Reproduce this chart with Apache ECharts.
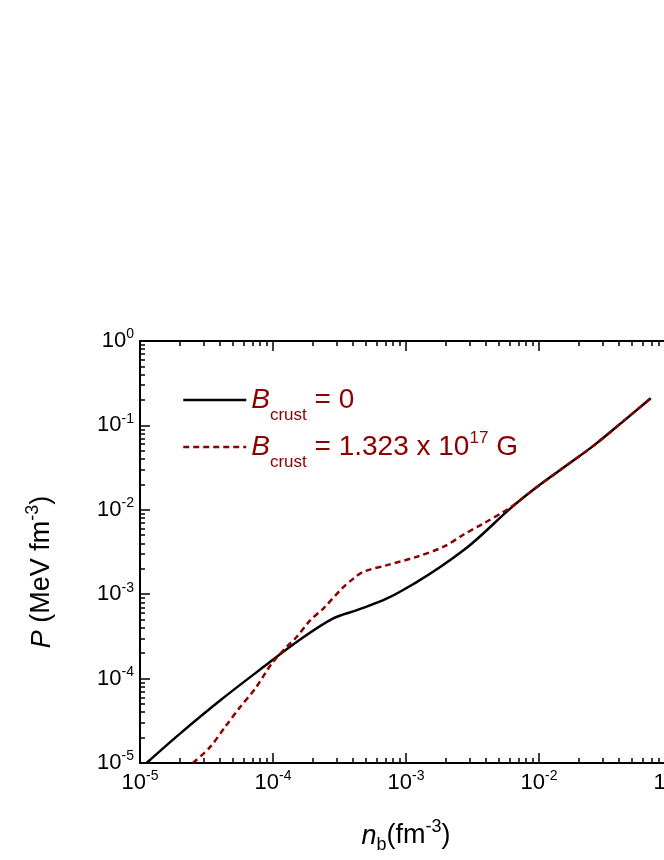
<!DOCTYPE html>
<html>
<head>
<meta charset="utf-8">
<script src="https://cdn.jsdelivr.net/npm/echarts@6/dist/echarts.min.js"></script>
<style>
html,body{margin:0;padding:0;background:#fff;}
#chart{width:664px;height:860px;}
</style>
</head>
<body>
<div id="chart"></div>
<script>
// B_crust = 0 (solid black)
const nb0 = [1.12e-5, 2.0e-5, 4.0e-5, 8.0e-5, 1.6e-4, 2.86e-4, 4.28e-4, 7.2e-4, 1.21e-3, 1.82e-3, 2.72e-3, 3.63e-3, 6.1e-3, 9.16e-3, 1.46e-2, 2.59e-2, 4.36e-2, 6.92e-2];
const p0  = [1.0e-5, 2.23e-5, 5.5e-5, 1.28e-4, 2.9e-4, 5.2e-4, 6.48e-4, 8.9e-4, 1.40e-3, 2.11e-3, 3.33e-3, 4.9e-3, 1.04e-2, 1.75e-2, 3.0e-2, 5.8e-2, 0.114, 0.21];
// B_crust = 1.323 x 10^17 G (dashed dark red)
const nb1 = [2.5e-5, 3.37e-5, 4.36e-5, 5.66e-5, 7.34e-5, 9.8e-5, 1.27e-4, 1.51e-4, 1.91e-4, 2.4e-4, 3.3e-4, 4.04e-4, 4.8e-4, 7.2e-4, 1.21e-3, 1.92e-3, 2.72e-3, 3.8e-3, 5.44e-3, 6.47e-3, 9.16e-3, 1.46e-2, 2.59e-2, 4.36e-2, 6.92e-2];
const p1  = [1.0e-5, 1.55e-5, 2.67e-5, 4.6e-5, 7.6e-5, 1.51e-4, 2.38e-4, 3.13e-4, 4.93e-4, 6.8e-4, 1.17e-3, 1.54e-3, 1.85e-3, 2.21e-3, 2.78e-3, 3.65e-3, 5.1e-3, 6.85e-3, 9.5e-3, 1.14e-2, 1.75e-2, 3.0e-2, 5.8e-2, 0.114, 0.21];

const xRange = [1e-5, 1e-1];
const yRange = [1e-5, 1];
const legendNames = ['B0', 'B1'];
const legendTexts = {
  B0: '{i|B}{sub|crust}{t| = 0}',
  B1: '{i|B}{sub|crust}{t| = 1.323 x 10}{sup|17}{t| G}'
};

function minorTicks(lo, hi) {
  const out = [];
  for (let e = Math.round(Math.log10(lo)); e < Math.round(Math.log10(hi)); e++) {
    for (let m = 2; m <= 9; m++) out.push(m * Math.pow(10, e));
  }
  return out;
}
const FONT = 'Liberation Sans, Arial, Helvetica, sans-serif';
const RED = '#8B0000';

function expLabel(v) {
  const e = Math.round(Math.log10(v));
  return '{b|10}{s|' + e + '}';
}
const tickRich = {
  b: {fontSize: 22, fontFamily: FONT, color: '#000', lineHeight: 22},
  s: {fontSize: 14, fontFamily: FONT, color: '#000', lineHeight: 14, padding: [0, 0, 13, 0]}
};

function pairs(xs, ys) { return xs.map((x, i) => [x, ys[i]]); }

const chart = echarts.init(document.getElementById('chart'), null, {renderer: 'canvas'});
const grid = {left: 140, top: 341, width: 532, height: 422, containLabel: false, outerBoundsMode: 'none'};

function logAxis(extra) {
  return Object.assign({
    type: 'log', logBase: 10, gridIndex: 0,
    splitLine: {show: false}, minorSplitLine: {show: false}
  }, extra);
}

const option = {
  animation: false,
  backgroundColor: '#fff',
  grid: grid,
  legend: {
    data: legendNames,
    orient: 'vertical',
    left: 182, top: 376,
    padding: 0,
    itemWidth: 63, itemHeight: 14,
    itemGap: -1,
    itemStyle: {opacity: 0},
    lineStyle: {width: 2.5},
    formatter: n => legendTexts[n],
    textStyle: {
      color: RED, fontFamily: FONT,
      rich: {
        i: {fontSize: 28, fontStyle: 'italic', color: RED, fontFamily: FONT, lineHeight: 30},
        t: {fontSize: 28, color: RED, fontFamily: FONT, lineHeight: 30},
        sub: {fontSize: 17, color: RED, fontFamily: FONT, lineHeight: 17, padding: [31, 0, 0, 0]},
        sup: {fontSize: 17, color: RED, fontFamily: FONT, lineHeight: 17, padding: [0, 0, 18, 0]}
      }
    }
  },
  xAxis: [
    logAxis({
      position: 'bottom', min: xRange[0], max: xRange[1],
      axisLine: {show: true, lineStyle: {color: '#000', width: 2}},
      axisTick: {show: true, inside: true, length: 10, lineStyle: {color: '#000', width: 1.5}},
      axisLabel: {show: true, margin: 9, formatter: expLabel, rich: tickRich},
      name: '{i|n}{sub|b}{t|(fm}{sup|-3}{t|)}',
      nameLocation: 'middle', nameGap: 59,
      nameTextStyle: {
        rich: {
          i: {fontSize: 27, fontStyle: 'italic', fontFamily: FONT, color: '#000', lineHeight: 28},
          t: {fontSize: 27, fontFamily: FONT, color: '#000', lineHeight: 28},
          sub: {fontSize: 18, fontFamily: FONT, color: '#000', lineHeight: 18, padding: [18, 0, 0, 0]},
          sup: {fontSize: 18, fontFamily: FONT, color: '#000', lineHeight: 18, padding: [0, 0, 18, 0]}
        }
      }
    }),
    logAxis({
      position: 'bottom', min: xRange[0], max: xRange[1],
      axisLine: {show: false},
      axisTick: {show: true, inside: true, length: 5, customValues: minorTicks(xRange[0], xRange[1]), lineStyle: {color: '#000', width: 1.5}},
      axisLabel: {show: false}
    }),
    logAxis({
      position: 'top', min: xRange[0], max: xRange[1],
      axisLine: {show: true, lineStyle: {color: '#000', width: 2}},
      axisTick: {show: true, inside: true, length: 10, lineStyle: {color: '#000', width: 1.5}},
      axisLabel: {show: false}
    }),
    logAxis({
      position: 'top', min: xRange[0], max: xRange[1],
      axisLine: {show: false},
      axisTick: {show: true, inside: true, length: 5, customValues: minorTicks(xRange[0], xRange[1]), lineStyle: {color: '#000', width: 1.5}},
      axisLabel: {show: false}
    })
  ],
  yAxis: [
    logAxis({
      position: 'left', min: yRange[0], max: yRange[1],
      axisLine: {show: true, lineStyle: {color: '#000', width: 2}},
      axisTick: {show: true, inside: true, length: 10, lineStyle: {color: '#000', width: 1.5}},
      axisLabel: {show: true, margin: 6, formatter: expLabel, rich: tickRich},
      name: '{i|P}{t| (MeV fm}{sup|-3}{t|)}',
      nameLocation: 'middle', nameGap: 84, nameRotate: 90,
      nameTextStyle: {
        padding: [0, 40, 0, 0],
        rich: {
          i: {fontSize: 27, fontStyle: 'italic', fontFamily: FONT, color: '#000', lineHeight: 28},
          t: {fontSize: 27, fontFamily: FONT, color: '#000', lineHeight: 28},
          sup: {fontSize: 18, fontFamily: FONT, color: '#000', lineHeight: 18, padding: [0, 0, 18, 0]}
        }
      }
    }),
    logAxis({
      position: 'left', min: yRange[0], max: yRange[1],
      axisLine: {show: false},
      axisTick: {show: true, inside: true, length: 5, customValues: minorTicks(yRange[0], yRange[1]), lineStyle: {color: '#000', width: 1.5}},
      axisLabel: {show: false}
    })
  ],
  series: [
    {
      name: 'B0', type: 'line', xAxisIndex: 0, yAxisIndex: 0,
      data: pairs(nb0, p0), smooth: 0.35, symbol: 'none', showSymbol: false,
      lineStyle: {color: '#000', width: 2.5, type: 'solid'},
      itemStyle: {color: '#000'}, z: 3
    },
    {
      name: 'B1', type: 'line', xAxisIndex: 0, yAxisIndex: 0,
      data: pairs(nb1, p1), smooth: 0.3, symbol: 'none', showSymbol: false,
      lineStyle: {color: RED, width: 2.5, type: [6, 4]},
      itemStyle: {color: RED}, z: 4
    }
  ]
};
chart.setOption(option);
</script>
</body>
</html>
